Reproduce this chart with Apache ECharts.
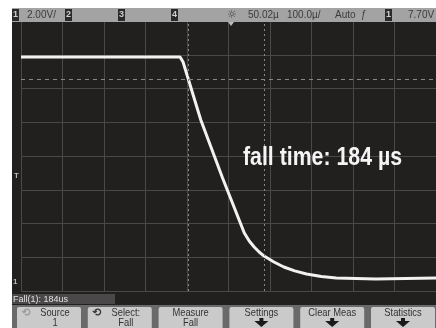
<!DOCTYPE html>
<html>
<head>
<meta charset="utf-8">
<script src="https://cdn.jsdelivr.net/npm/echarts@6/dist/echarts.min.js"></script>
<style>
html,body{margin:0;padding:0;background:#ffffff;}
#c{width:436px;height:328px;}
</style>
</head>
<body>
<div id="c"></div>
<script>
// Trace (channel 1): time in µs relative to trigger, voltage in V
const timeUs = [-500, -116.7, -109.5, -66.7, -14.3, 38.1, 50.0, 61.9, 73.8, 85.7, 109.5, 133.3, 159.5, 188.1, 223.8, 259.5, 354.8, 500];
const volts  = [13.87, 13.87, 13.57, 10.13, 6.70, 3.44, 2.96, 2.61, 2.31, 2.07, 1.72, 1.42, 1.19, 1.01, 0.86, 0.77, 0.71, 0.77];
// Measurement markers
const markerTimes = [-98, 86];
const markerLevels = [12.56];
// Axis settings (10 div x 100 µs, 8 div x 2 V)
const xRange = [-500, 500], xStep = 100;
const yRange = [0, 16], yStep = 2;
// Texts
const headerItems = [
  {t:'2.00V/', x:27}, {t:'50.02µ', x:248}, {t:'100.0µ/', x:287}, {t:'Auto', x:335}, {t:'ƒ', x:361}, {t:'7.70V', x:408}
];
const channelBoxes = [{t:'1', x:12}, {t:'2', x:65}, {t:'3', x:118}, {t:'4', x:171}, {t:'1', x:385}];
const measureText = 'Fall(1): 184us';
const annotation = 'fall time: 184 µs';
const buttons = [['Source','1'], ['Select:','Fall'], ['Measure','Fall'], ['Settings',''], ['Clear Meas',''], ['Statistics','']];

const data = timeUs.map((t, i) => [t, volts[i]]);

// condensed text helper: measure, then squeeze horizontally
const mctx = document.createElement('canvas').getContext('2d');
function squeeze(font, text, targetW) {
  mctx.font = font;
  return targetW / mctx.measureText(text).width;
}
const annFont = 'bold 25px "Liberation Sans"';
const annScale = squeeze(annFont, annotation, 159);
const btnFont = '11px "Liberation Sans"';

const g = [];
g.push({type:'rect', z:-10, shape:{x:0,y:0,width:436,height:328}, style:{fill:'#ffffff'}, silent:true});
g.push({type:'rect', z:-9, shape:{x:12,y:8,width:424,height:300}, style:{fill:'#221f1f'}, silent:true});
// header bar
g.push({type:'rect', z:100, shape:{x:12,y:8,width:424,height:14}, style:{fill:'#a3a3a3'}, silent:true});
channelBoxes.forEach(b => {
  g.push({type:'rect', z:101, shape:{x:b.x,y:9,width:7,height:12}, style:{fill:'#2a2a2a'}, silent:true});
  g.push({type:'text', z:102, style:{text:b.t, x:b.x+3.5, y:15, fill:'#cfcfcf', font:'bold 9px "Liberation Sans"', align:'center', verticalAlign:'middle'}, silent:true});
});
headerItems.forEach(h => {
  g.push({type:'text', z:102, style:{text:h.t, x:h.x, y:15.5, fill:'#3c3c3c', font:'10px "Liberation Sans"', verticalAlign:'middle'}, silent:true});
});
g.push({type:'text', z:102, style:{text:'☼', x:232, y:15, fill:'#444', font:'11px "DejaVu Sans"', align:'center', verticalAlign:'middle'}, silent:true});
g.push({type:'polygon', z:102, shape:{points:[[228,22],[234,22],[231,26]]}, style:{fill:'#bbbbbb'}, silent:true});
// left markers
g.push({type:'text', z:102, style:{text:'T', x:14, y:176, fill:'#bbbbbb', font:'bold 8px "Liberation Sans"', verticalAlign:'middle'}, silent:true});
g.push({type:'text', z:102, style:{text:'1', x:13, y:282, fill:'#bbbbbb', font:'bold 8px "Liberation Sans"', verticalAlign:'middle'}, silent:true});
// measurement readout bar
g.push({type:'rect', z:100, shape:{x:12,y:294,width:103,height:10}, style:{fill:'#4a4848'}, silent:true});
g.push({type:'text', z:101, style:{text:measureText, x:13, y:299.5, fill:'#e2e2e2', font:'9px "Liberation Sans"', verticalAlign:'middle'}, silent:true});
// softkey area
g.push({type:'rect', z:100, shape:{x:12,y:305,width:424,height:23}, style:{fill:'#6a6a6a'}, silent:true});
buttons.forEach((b, i) => {
  const bx = 17 + i * 70.8;
  g.push({type:'rect', z:101, shape:{x:bx,y:307,width:64,height:24,r:2}, style:{fill:'#cacaca'}, silent:true});
  const tx = bx + 32 + (i < 2 ? 6 : 0);
  const s = 0.85;
  g.push({type:'text', z:102, x:tx, y:312.5, scaleX:s, style:{text:b[0], x:0, y:0, fill:'#333333', font:btnFont, align:'center', verticalAlign:'middle'}, silent:true});
  if (b[1]) {
    g.push({type:'text', z:102, x:tx, y:322.5, scaleX:s, style:{text:b[1], x:0, y:0, fill:'#333333', font:btnFont, align:'center', verticalAlign:'middle'}, silent:true});
  } else {
    const cx = bx + 32;
    g.push({type:'polygon', z:102, shape:{points:[[cx-2,318],[cx+2,318],[cx+2,321],[cx+7,321],[cx,327],[cx-7,321],[cx-2,321]]}, style:{fill:'#1a1a1a'}, silent:true});
  }
  if (i < 2) {
    g.push({type:'text', z:102, style:{text:'⟲', x:bx+9, y:313, fill: i===0 ? '#9a9a9a' : '#333333', font:'bold 11px "DejaVu Sans"', align:'center', verticalAlign:'middle'}, silent:true});
  }
});
// annotation
g.push({type:'text', z:110, x:243, y:158, scaleX:annScale, style:{text:annotation, x:0, y:0, fill:'#f4f4f4', font:annFont, verticalAlign:'middle'}, silent:true});

const chart = echarts.init(document.getElementById('c'), null, {renderer:'canvas'});
chart.setOption({
  animation:false,
  backgroundColor:'transparent',
  grid:{left:21, top:21, width:420, height:270, containLabel:false},
  xAxis:{type:'value', min:xRange[0], max:xRange[1], interval:xStep,
    axisLine:{show:false}, axisTick:{show:false}, axisLabel:{show:false},
    splitLine:{show:true, lineStyle:{color:'#4b4848', width:1}}},
  yAxis:{type:'value', min:yRange[0], max:yRange[1], interval:yStep,
    axisLine:{show:false}, axisTick:{show:false}, axisLabel:{show:false},
    splitLine:{show:true, lineStyle:{color:'#4b4848', width:1}}},
  graphic: g,
  series:[{
    type:'line', data:data, showSymbol:false, symbol:'none', smooth:false,
    lineStyle:{color:'#f2f2f2', width:3},
    markLine:{silent:true, symbol:'none', label:{show:false},
      data: markerTimes.map(t => ({xAxis:t, lineStyle:{color:'#8a8888', type:[2,3], width:1}}))
        .concat(markerLevels.map(v => ({yAxis:v, lineStyle:{color:'#8a8888', type:[4,4], width:1}})))
    }
  }]
});
</script>
</body>
</html>
